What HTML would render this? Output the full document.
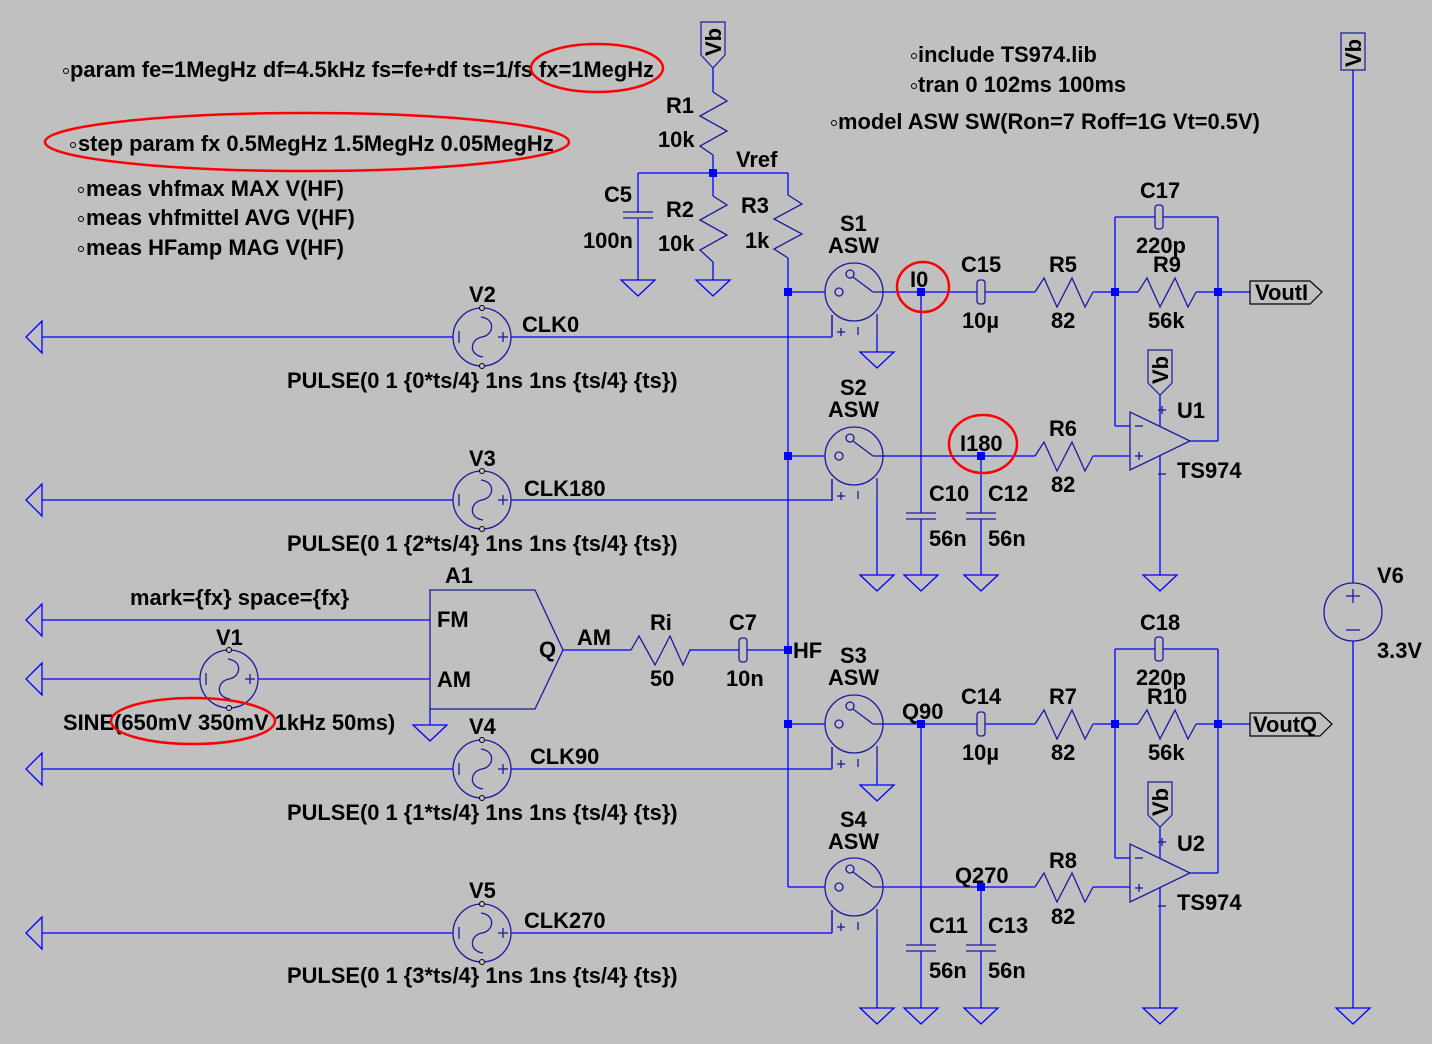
<!DOCTYPE html>
<html><head><meta charset="utf-8"><style>
html,body{margin:0;padding:0;background:#c0c0c0;}
svg{display:block}
text{font-family:"Liberation Sans",Arial,sans-serif;font-weight:bold;font-size:21.9px;fill:#000}
</style></head><body>
<svg width="1432" height="1044" viewBox="0 0 1432 1044" xmlns="http://www.w3.org/2000/svg">
<rect width="1432" height="1044" fill="#c0c0c0"/>
<defs>
<g id="gnd"><polygon points="-17,0 17,0 0,16" fill="none" stroke="#0000ff" stroke-width="1.3"/></g>
<g id="lgnd"><polygon points="0,0 16,-16 16,16" fill="none" stroke="#0000ff" stroke-width="1.3"/></g>
<g id="src"><circle r="29" fill="none" stroke="#1a1aa0" stroke-width="1.3"/>
<path d="M-1,-20 C14,-18 12,-2 0,0 C-12,2 -14,18 1,20" fill="none" stroke="#1a1aa0" stroke-width="1.3"/>
<line x1="-23" y1="-6" x2="-23" y2="6" stroke="#1a1aa0" stroke-width="1.3"/>
<line x1="16" y1="0" x2="26" y2="0" stroke="#1a1aa0" stroke-width="1.3"/><line x1="21" y1="-5" x2="21" y2="5" stroke="#1a1aa0" stroke-width="1.3"/>
<circle cx="0" cy="-29" r="2.5" fill="#c0c0c0" stroke="#000" stroke-width="1"/><circle cx="0" cy="29" r="2.5" fill="#c0c0c0" stroke="#000" stroke-width="1"/></g>
<g id="sw" stroke="#1a1aa0" stroke-width="1.3" fill="none">
<circle r="29"/><circle cx="-15" cy="0" r="4"/><circle cx="-4" cy="-18" r="4"/>
<line x1="-1" y1="-15" x2="19" y2="0"/><line x1="19" y1="0" x2="29" y2="0"/>
<path d="M-22,23 L-22,45"/><path d="M23,22 L23,45"/>
<line x1="-17" y1="40" x2="-9" y2="40"/><line x1="-13" y1="36" x2="-13" y2="44"/>
<line x1="4" y1="35" x2="4" y2="43"/></g>
<g id="dot"><rect x="-4" y="-4" width="8" height="8" fill="#0000ff"/></g>
<g id="hres" fill="none" stroke="#1a1aa0" stroke-width="1.3"><polyline points="0,0 9,-14 22,15 37,-14 50,15 58,0"/></g>
<g id="hcap" stroke="#1a1aa0" stroke-width="1.3" fill="none"><rect x="-4" y="-12" width="8" height="24" rx="3"/></g>
<g id="vcap" stroke="#1a1aa0" stroke-width="1.3" fill="none"><line x1="-15" y1="0" x2="15" y2="0"/><line x1="-15" y1="6" x2="15" y2="6"/></g>
<g id="oa" stroke="#1a1aa0" stroke-width="1.3" fill="none"><polygon points="0,0 0,58 60,29"/>
<line x1="5" y1="14" x2="13" y2="14"/><line x1="5" y1="44" x2="13" y2="44"/><line x1="9" y1="40" x2="9" y2="48"/>
<line x1="32" y1="-6" x2="32" y2="2" /><line x1="28" y1="-2" x2="36" y2="-2"/><line x1="28" y1="62" x2="36" y2="62"/></g>
</defs>

<g stroke="#0000ff" stroke-width="1.3" fill="none">
<line x1="713" y1="68" x2="713" y2="92"/><line x1="713" y1="155" x2="713" y2="196"/><line x1="713" y1="262" x2="713" y2="280"/>
<line x1="638" y1="173" x2="788" y2="173"/><line x1="788" y1="173" x2="788" y2="195"/>
<line x1="638" y1="173" x2="638" y2="212"/><line x1="638" y1="219" x2="638" y2="280"/>
<line x1="788" y1="258" x2="788" y2="887"/><line x1="788" y1="887" x2="825" y2="887"/>
<line x1="788" y1="292" x2="825" y2="292"/><line x1="788" y1="456" x2="825" y2="456"/><line x1="788" y1="724" x2="825" y2="724"/>
<line x1="42" y1="337" x2="453" y2="337"/><line x1="511" y1="337" x2="832" y2="337"/>
<line x1="42" y1="500" x2="453" y2="500"/><line x1="511" y1="500" x2="832" y2="500"/>
<line x1="42" y1="769" x2="453" y2="769"/><line x1="511" y1="769" x2="832" y2="769"/>
<line x1="42" y1="933" x2="453" y2="933"/><line x1="511" y1="933" x2="832" y2="933"/>
<line x1="832" y1="337" x2="832" y2="315"/><line x1="832" y1="500" x2="832" y2="479"/><line x1="832" y1="769" x2="832" y2="747"/><line x1="832" y1="933" x2="832" y2="910"/>
<line x1="877" y1="337" x2="877" y2="352"/><line x1="877" y1="500" x2="877" y2="575"/><line x1="877" y1="769" x2="877" y2="785"/><line x1="877" y1="932" x2="877" y2="1008"/>
<line x1="42" y1="620" x2="430" y2="620"/><line x1="42" y1="679" x2="200" y2="679"/><line x1="258" y1="679" x2="430" y2="679"/>
<line x1="430" y1="709" x2="430" y2="725"/>
<line x1="563" y1="650" x2="631" y2="650"/><line x1="689" y1="650" x2="739" y2="650"/><line x1="747" y1="650" x2="788" y2="650"/>
<line x1="1353" y1="70" x2="1353" y2="583"/><line x1="1353" y1="641" x2="1353" y2="1008"/>
</g>

<g id="ch">
<g stroke="#0000ff" stroke-width="1.3" fill="none">
<line x1="883" y1="292" x2="977" y2="292"/><line x1="985" y1="292" x2="1035" y2="292"/><line x1="1093" y1="292" x2="1138" y2="292"/><line x1="1196" y1="292" x2="1250" y2="292"/>
<line x1="921" y1="292" x2="921" y2="513"/><line x1="921" y1="519" x2="921" y2="575"/>
<line x1="883" y1="456" x2="1035" y2="456"/><line x1="1093" y1="456" x2="1130" y2="456"/>
<line x1="981" y1="456" x2="981" y2="513"/><line x1="981" y1="519" x2="981" y2="575"/>
<line x1="1115" y1="217" x2="1115" y2="426"/><line x1="1115" y1="426" x2="1130" y2="426"/>
<line x1="1115" y1="217" x2="1155" y2="217"/><line x1="1163" y1="217" x2="1218" y2="217"/>
<line x1="1218" y1="217" x2="1218" y2="441"/><line x1="1190" y1="441" x2="1218" y2="441"/>
<line x1="1160" y1="395" x2="1160" y2="426"/><line x1="1160" y1="456" x2="1160" y2="575"/>
</g>
<use href="#hcap" x="981" y="292"/>
<use href="#hcap" x="1159" y="217"/>
<use href="#hres" x="1035" y="292"/><use href="#hres" x="1138" y="292"/><use href="#hres" x="1035" y="456"/>
<use href="#vcap" x="921" y="513"/><use href="#vcap" x="981" y="513"/>
<use href="#oa" x="1130" y="412"/>
<polygon points="1250,281 1310,281 1322,292 1310,304 1250,304" fill="none" stroke="#000" stroke-width="1.2"/>
<polygon points="1148,350 1172,350 1172,383 1160,395 1148,383" fill="none" stroke="#1a1aa0" stroke-width="1.2"/>
<text transform="translate(1168,384) rotate(-90)">Vb</text>
<use href="#dot" x="921" y="292"/><use href="#dot" x="981" y="456"/><use href="#dot" x="1115" y="292"/><use href="#dot" x="1218" y="292"/>
<use href="#gnd" x="921" y="575"/><use href="#gnd" x="981" y="575"/><use href="#gnd" x="1160" y="575"/>
<text x="961" y="272">C15</text><text x="962" y="328">10µ</text>
<text x="1049" y="272">R5</text><text x="1051" y="328">82</text>
<text x="1153" y="272">R9</text><text x="1148" y="328">56k</text>
<text x="1049" y="436">R6</text><text x="1051" y="492">82</text>
<text x="929" y="501">C10</text><text x="988" y="501">C12</text>
<text x="929" y="546">56n</text><text x="988" y="546">56n</text>
<text x="1177" y="478">TS974</text>
</g>
<g transform="translate(0,432)">
<g stroke="#0000ff" stroke-width="1.3" fill="none">
<line x1="883" y1="292" x2="977" y2="292"/><line x1="985" y1="292" x2="1035" y2="292"/><line x1="1093" y1="292" x2="1138" y2="292"/><line x1="1196" y1="292" x2="1250" y2="292"/>
<line x1="921" y1="292" x2="921" y2="513"/><line x1="921" y1="519" x2="921" y2="576"/>
<line x1="883" y1="455" x2="1035" y2="455"/><line x1="1093" y1="455" x2="1130" y2="455"/>
<line x1="981" y1="455" x2="981" y2="513"/><line x1="981" y1="519" x2="981" y2="576"/>
<line x1="1115" y1="217" x2="1115" y2="426"/><line x1="1115" y1="426" x2="1130" y2="426"/>
<line x1="1115" y1="217" x2="1155" y2="217"/><line x1="1163" y1="217" x2="1218" y2="217"/>
<line x1="1218" y1="217" x2="1218" y2="441"/><line x1="1190" y1="441" x2="1218" y2="441"/>
<line x1="1160" y1="395" x2="1160" y2="426"/><line x1="1160" y1="456" x2="1160" y2="576"/>
</g>
<use href="#hcap" x="981" y="292"/>
<use href="#hcap" x="1159" y="217"/>
<use href="#hres" x="1035" y="292"/><use href="#hres" x="1138" y="292"/><use href="#hres" x="1035" y="455"/>
<use href="#vcap" x="921" y="513"/><use href="#vcap" x="981" y="513"/>
<use href="#oa" x="1130" y="412"/>
<polygon points="1250,281 1320,281 1332,292 1320,304 1250,304" fill="none" stroke="#000" stroke-width="1.2"/>
<polygon points="1148,350 1172,350 1172,383 1160,395 1148,383" fill="none" stroke="#1a1aa0" stroke-width="1.2"/>
<text transform="translate(1168,384) rotate(-90)">Vb</text>
<use href="#dot" x="921" y="292"/><use href="#dot" x="981" y="455"/><use href="#dot" x="1115" y="292"/><use href="#dot" x="1218" y="292"/>
<use href="#gnd" x="921" y="576"/><use href="#gnd" x="981" y="576"/><use href="#gnd" x="1160" y="576"/>
<text x="961" y="272">C14</text><text x="962" y="328">10µ</text>
<text x="1049" y="272">R7</text><text x="1051" y="328">82</text>
<text x="1147" y="272">R10</text><text x="1148" y="328">56k</text>
<text x="1049" y="436">R8</text><text x="1051" y="492">82</text>
<text x="929" y="501">C11</text><text x="988" y="501">C13</text>
<text x="929" y="546">56n</text><text x="988" y="546">56n</text>
<text x="1177" y="478">TS974</text>
</g>

<use href="#sw" x="854" y="292"/><use href="#sw" x="854" y="456"/><use href="#sw" x="854" y="724"/><use href="#sw" x="854" y="887"/>
<use href="#gnd" x="877" y="352"/><use href="#gnd" x="877" y="575"/><use href="#gnd" x="877" y="785"/><use href="#gnd" x="877" y="1008"/>

<use href="#src" x="482" y="337"/><use href="#src" x="482" y="500"/><use href="#src" x="482" y="769"/><use href="#src" x="482" y="933"/><use href="#src" x="229" y="679"/>
<use href="#lgnd" x="26" y="337"/><use href="#lgnd" x="26" y="500"/><use href="#lgnd" x="26" y="620"/><use href="#lgnd" x="26" y="679"/><use href="#lgnd" x="26" y="769"/><use href="#lgnd" x="26" y="933"/>

<polygon points="430,590 535,590 563,650 535,709 430,709" fill="none" stroke="#1a1aa0" stroke-width="1.3"/>
<use href="#gnd" x="430" y="725"/>
<polyline points="631,650 639,636 655,665 670,636 683,665 690,650" fill="none" stroke="#1a1aa0" stroke-width="1.3"/>
<rect x="739" y="638" width="8" height="24" rx="3" fill="none" stroke="#1a1aa0" stroke-width="1.3"/>

<polyline points="713,92 727,101 700,116 727,131 700,146 713,155" fill="none" stroke="#1a1aa0" stroke-width="1.3"/>
<polyline points="713,196 727,205 700,220 727,235 700,250 713,262" fill="none" stroke="#1a1aa0" stroke-width="1.3"/>
<polyline points="788,195 802,204 774,219 802,234 774,249 788,258" fill="none" stroke="#1a1aa0" stroke-width="1.3"/>
<use href="#vcap" x="638" y="212"/>
<use href="#gnd" x="638" y="280"/><use href="#gnd" x="713" y="280"/>
<use href="#dot" x="713" y="173"/><use href="#dot" x="788" y="292"/><use href="#dot" x="788" y="456"/><use href="#dot" x="788" y="650"/><use href="#dot" x="788" y="724"/>
<polygon points="701,22 725,22 725,55 713,68 701,55" fill="none" stroke="#1a1aa0" stroke-width="1.2"/>
<text transform="translate(721,56) rotate(-90)">Vb</text>
<polygon points="1341,33 1365,33 1365,70 1341,70" fill="none" stroke="#1a1aa0" stroke-width="1.2"/>
<text transform="translate(1361,67) rotate(-90)">Vb</text>
<circle cx="1353" cy="612" r="29" fill="none" stroke="#1a1aa0" stroke-width="1.3"/>
<line x1="1346" y1="596" x2="1360" y2="596" stroke="#1a1aa0" stroke-width="1.3"/><line x1="1353" y1="589" x2="1353" y2="603" stroke="#1a1aa0" stroke-width="1.3"/>
<line x1="1346" y1="630" x2="1360" y2="630" stroke="#1a1aa0" stroke-width="1.3"/>
<use href="#gnd" x="1353" y="1008"/>

<text x="70" y="77">param fe=1MegHz df=4.5kHz fs=fe+df ts=1/fs fx=1MegHz</text>
<text x="78" y="151">step param fx 0.5MegHz 1.5MegHz 0.05MegHz</text>
<text x="86" y="196">meas vhfmax MAX V(HF)</text>
<text x="86" y="225">meas vhfmittel AVG V(HF)</text>
<text x="86" y="255">meas HFamp MAG V(HF)</text>
<text x="918" y="62">include TS974.lib</text>
<text x="918" y="92">tran 0 102ms 100ms</text>
<text x="838" y="129">model ASW SW(Ron=7 Roff=1G Vt=0.5V)</text>
<g fill="none" stroke="#000" stroke-width="1">
<circle cx="66" cy="71" r="2.5"/><circle cx="73" cy="145" r="2.5"/><circle cx="81" cy="190" r="2.5"/><circle cx="81" cy="219" r="2.5"/><circle cx="81" cy="249" r="2.5"/>
<circle cx="914" cy="56" r="2.5"/><circle cx="914" cy="86" r="2.5"/><circle cx="834" cy="123" r="2.5"/>
</g>
<text x="666" y="113">R1</text><text x="658" y="147">10k</text>
<text x="736" y="167">Vref</text>
<text x="604" y="202">C5</text><text x="583" y="248">100n</text>
<text x="666" y="217">R2</text><text x="658" y="251">10k</text>
<text x="741" y="213">R3</text><text x="745" y="248">1k</text>
<text x="1140" y="198">C17</text><text x="1136" y="253">220p</text>
<text x="1255" y="300">VoutI</text>
<text x="1177" y="418">U1</text>
<text x="1140" y="630">C18</text><text x="1136" y="685">220p</text>
<text x="1253" y="732">VoutQ</text>
<text x="1177" y="851">U2</text>
<text x="910" y="287">I0</text>
<text x="960" y="451">I180</text>
<text x="902" y="719">Q90</text>
<text x="955" y="883">Q270</text>
<text x="840" y="231">S1</text><text x="828" y="253">ASW</text>
<text x="840" y="395">S2</text><text x="828" y="417">ASW</text>
<text x="840" y="663">S3</text><text x="828" y="685">ASW</text>
<text x="840" y="827">S4</text><text x="828" y="849">ASW</text>
<text x="469" y="302">V2</text><text x="522" y="332">CLK0</text>
<text x="287" y="388">PULSE(0 1 {0*ts/4} 1ns 1ns {ts/4} {ts})</text>
<text x="469" y="466">V3</text><text x="524" y="496">CLK180</text>
<text x="287" y="551">PULSE(0 1 {2*ts/4} 1ns 1ns {ts/4} {ts})</text>
<text x="445" y="583">A1</text>
<text x="130" y="605">mark={fx} space={fx}</text>
<text x="437" y="627">FM</text><text x="437" y="687">AM</text><text x="539" y="657">Q</text>
<text x="577" y="645">AM</text>
<text x="650" y="630">Ri</text><text x="650" y="686">50</text>
<text x="729" y="630">C7</text><text x="726" y="686">10n</text>
<text x="793" y="658">HF</text>
<text x="216" y="645">V1</text>
<text x="63" y="730">SINE(650mV 350mV 1kHz 50ms)</text>
<text x="469" y="734">V4</text><text x="530" y="764">CLK90</text>
<text x="287" y="820">PULSE(0 1 {1*ts/4} 1ns 1ns {ts/4} {ts})</text>
<text x="469" y="898">V5</text><text x="524" y="928">CLK270</text>
<text x="287" y="983">PULSE(0 1 {3*ts/4} 1ns 1ns {ts/4} {ts})</text>
<text x="1377" y="583">V6</text><text x="1377" y="658">3.3V</text>

<g fill="none" stroke="#ff0000" stroke-width="2.5">
<ellipse cx="597" cy="68" rx="66" ry="24"/>
<ellipse cx="307" cy="142" rx="262" ry="29"/>
<ellipse cx="923" cy="287" rx="26" ry="25"/>
<ellipse cx="983" cy="444" rx="34" ry="29"/>
<ellipse cx="193" cy="721" rx="82" ry="23"/>
</g>
</svg>
</body></html>
